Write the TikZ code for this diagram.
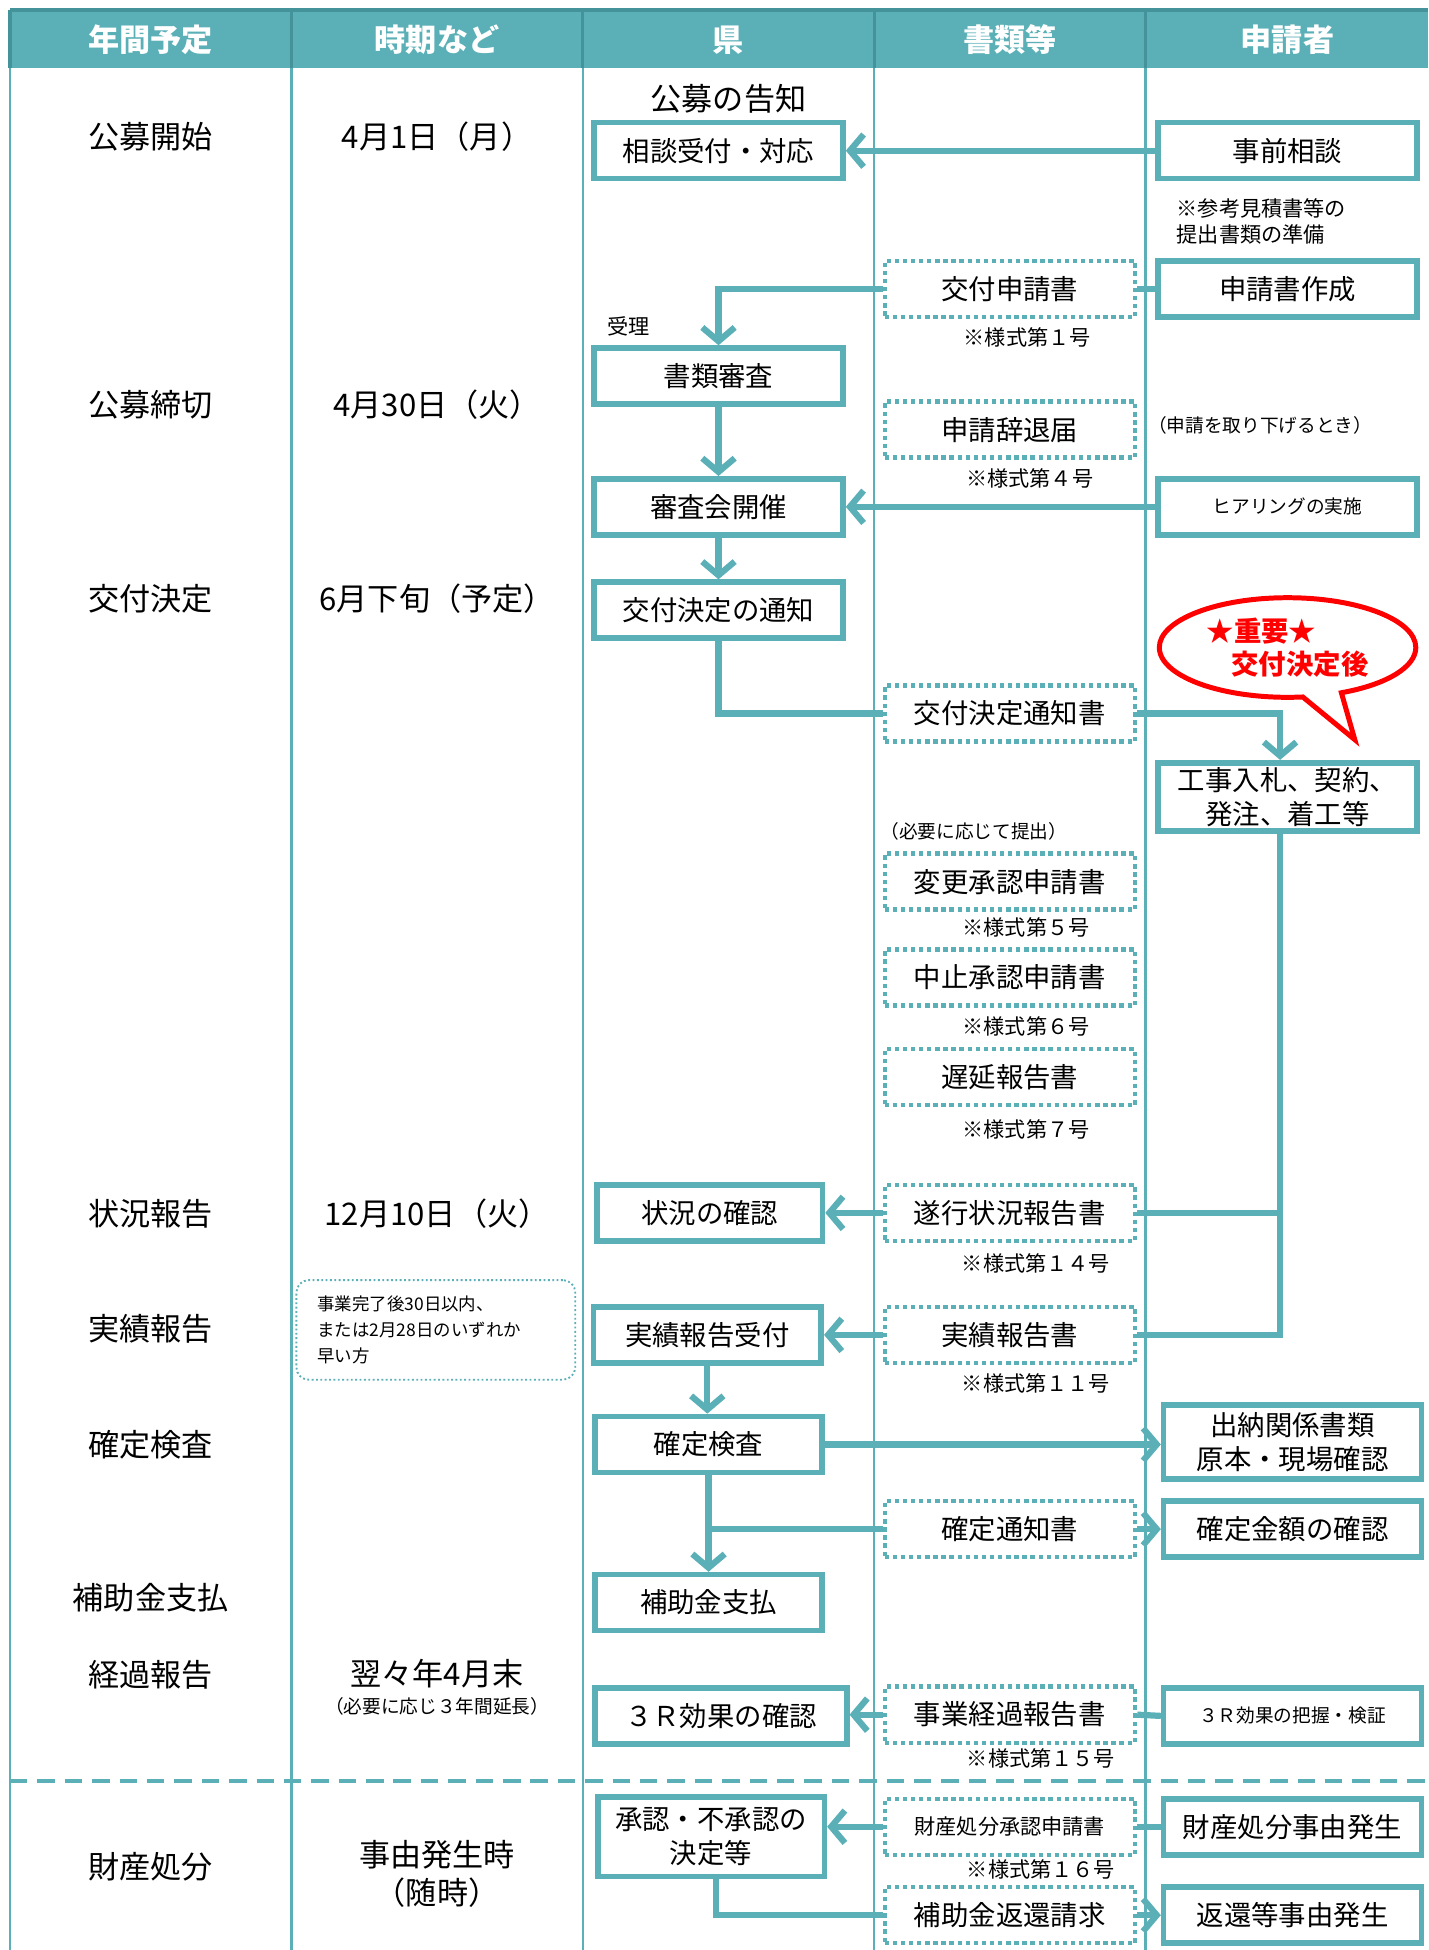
\documentclass[tikz,border=0pt]{standalone}
\usepackage{fontspec}
\setmainfont{Noto Sans CJK JP}
\usetikzlibrary{arrows.meta,shapes.callouts}
\definecolor{flowteal}{HTML}{5BB0B8}
\definecolor{headline}{HTML}{44939B}
\definecolor{alertred}{HTML}{FF0000}
\tikzset{
    big/.style={font=\fontsize{25pt}{30pt}\selectfont},
    mid/.style={font=\fontsize{22pt}{27pt}\selectfont},
    small/.style={font=\fontsize{17pt}{21pt}\selectfont},
    note/.style={font=\fontsize{15pt}{20pt}\selectfont},
    tiny/.style={font=\fontsize{14pt}{20.5pt}\selectfont},
    head/.style={font=\fontsize{25pt}{30pt}\selectfont\bfseries, text=white},
    box/.style={draw=flowteal, line width=4.5pt, fill=white, minimum width=200pt, minimum height=45pt, inner sep=2pt, align=center, mid},
    docbox/.style={draw=flowteal, line width=3.5pt, dash pattern=on 3.5pt off 3pt, fill=white, minimum width=201pt, minimum height=45pt, inner sep=2pt, align=center, mid},
    flow/.style={draw=flowteal, line width=5pt},
    arrow/.style={flow, -{Straight Barb[length=11pt, width=26pt]}},
}

\begin{document}
\begin{tikzpicture}[x=1pt, y=-1pt]
    \useasboundingbox (0,0) rectangle (1147,1566);

    % table
    \fill[flowteal] (8,8) rectangle (1147,55);
    \draw[headline, line width=2.5pt] (8,8) -- (1147,8);
    \draw[headline, line width=2.5pt] (8,8) -- (8,55);
    \draw[headline, line width=2.5pt] (234,8) -- (234,55);
    \draw[headline, line width=2.5pt] (468,8) -- (468,55);
    \draw[headline, line width=2.5pt] (702,8) -- (702,55);
    \draw[headline, line width=2.5pt] (920,8) -- (920,55);
    \draw[flowteal, line width=2pt] (8,55) -- (8,1566);
    \draw[flowteal, line width=2pt] (234,55) -- (234,1566);
    \draw[flowteal, line width=2pt] (468,55) -- (468,1566);
    \draw[flowteal, line width=2pt] (702,55) -- (702,1566);
    \draw[flowteal, line width=2pt] (920,55) -- (920,1566);
    \draw[flowteal, line width=3pt, dash pattern=on 14pt off 8pt] (8,1430) -- (1147,1430);

    \node[head] (head_year) at (121,32) {年間予定};
    \node[head] (head_time) at (351,32) {時期など};
    \node[head] (head_ken) at (585,32) {県};
    \node[head] (head_doc) at (811,32) {書類等};
    \node[head] (head_app) at (1034,32) {申請者};

    % schedule
    \node[big] (sched_start) at (121,110) {公募開始};
    \node[big] (sched_end) at (121,325) {公募締切};
    \node[big] (sched_decide) at (121,481) {交付決定};
    \node[big] (sched_status) at (121,975) {状況報告};
    \node[big] (sched_result) at (121,1067) {実績報告};
    \node[big] (sched_check) at (121,1160) {確定検査};
    \node[big] (sched_pay) at (121,1283) {補助金支払};
    \node[big] (sched_keika) at (121,1345) {経過報告};
    \node[big] (sched_shobun) at (121,1499) {財産処分};

    \node[big] (date_start) at (351,110) {4月1日（月）};
    \node[big] (date_end) at (351,325) {4月30日（火）};
    \node[big] (date_decide) at (351,481) {6月下旬（予定）};
    \node[big] (date_status) at (351,975) {12月10日（火）};
    \node[draw=flowteal, line width=1.5pt, dotted, rounded corners=10pt, minimum width=224pt, minimum height=80pt, text width=190pt, align=left, tiny] (date_limit) at (350,1068) {事業完了後30日以内、\\または2月28日のいずれか\\早い方};
    \node[big] (date_keika) at (351,1344) {翌々年4月末};
    \node[note] (date_keika_note) at (351,1370) {（必要に応じ３年間延長）};
    \node[big, align=center] (date_shobun) at (351,1505) {事由発生時\\（随時）};

    % ken
    \node[big] (ken_notice) at (585,79) {公募の告知};
    \node[box] (ken_soudan) at (577,121) {相談受付・対応};
    \node[box] (ken_shinsa) at (577,302) {書類審査};
    \node[small] (ken_juri) at (505,262) {受理};
    \node[box] (ken_shinsakai) at (577,407) {審査会開催};
    \node[box] (ken_tsuchi) at (577,490) {交付決定の通知};
    \node[box, minimum width=181pt] (ken_jokyo) at (570,974) {状況の確認};
    \node[box, minimum width=183pt] (ken_jisseki) at (568,1072) {実績報告受付};
    \node[box, minimum width=182pt] (ken_kensa) at (569,1160) {確定検査};
    \node[box, minimum width=182pt] (ken_shiharai) at (569,1287) {補助金支払};
    \node[box, minimum width=202pt] (ken_3r) at (579,1378) {３Ｒ効果の確認};
    \node[box, minimum width=182pt, minimum height=64pt] (ken_shonin) at (571,1475) {承認・不承認の\\決定等};

    % documents
    \node[docbox] (doc_shinsei) at (811,232) {交付申請書};
    \node[small] (form_1) at (825,271) {※様式第１号};
    \node[docbox] (doc_jitai) at (811,345) {申請辞退届};
    \node[small] (form_4) at (827,384) {※様式第４号};
    \node[docbox] (doc_tsuchi) at (811,573) {交付決定通知書};
    \node[note] (doc_need) at (782,668) {（必要に応じて提出）};
    \node[docbox] (doc_henko) at (811,708) {変更承認申請書};
    \node[small] (form_5) at (824,745) {※様式第５号};
    \node[docbox] (doc_chushi) at (811,785) {中止承認申請書};
    \node[small] (form_6) at (824,824) {※様式第６号};
    \node[docbox] (doc_chien) at (811,865) {遅延報告書};
    \node[small] (form_7) at (824,907) {※様式第７号};
    \node[docbox] (doc_suiko) at (811,974) {遂行状況報告書};
    \node[small] (form_14) at (832,1015) {※様式第１４号};
    \node[docbox] (doc_jisseki) at (811,1072) {実績報告書};
    \node[small] (form_11) at (832,1111) {※様式第１１号};
    \node[docbox] (doc_kakutei) at (811,1228) {確定通知書};
    \node[docbox] (doc_keika) at (811,1377) {事業経過報告書};
    \node[small] (form_15) at (836,1412) {※様式第１５号};
    \node[docbox, small] (doc_shobun) at (811,1467) {財産処分承認申請書};
    \node[small] (form_16) at (836,1501) {※様式第１６号};
    \node[docbox] (doc_henkan) at (811,1538) {補助金返還請求};

    % applicant
    \node[box, minimum width=208pt] (app_soudan) at (1034,121) {事前相談};
    \node[small, align=left] (app_prep) at (1013,178) {※参考見積書等の\\提出書類の準備};
    \node[box, minimum width=208pt] (app_sakusei) at (1034,232) {申請書作成};
    \node[note] (app_torisage) at (1012,342) {（申請を取り下げるとき）};
    \node[box, minimum width=208pt, note] (app_hearing) at (1034,407) {ヒアリングの実施};
    \coordinate (bubble_tip) at (1088,594);
    \node[ellipse callout, draw=alertred, line width=4pt, fill=white, minimum width=206pt, minimum height=80pt, inner sep=0pt, callout absolute pointer=(bubble_tip), callout pointer arc=18, align=left, text=alertred, font=\fontsize{22pt}{27pt}\selectfont\bfseries] (bubble) at (1034,520) {★重要★\\\hspace*{20pt}交付決定後};
    \node[box, minimum width=208pt, minimum height=55pt] (app_koji) at (1034,640) {工事入札、契約、\\発注、着工等};
    \node[box, minimum width=207pt, minimum height=59pt] (app_suitou) at (1038,1158) {出納関係書類\\原本・現場確認};
    \node[box, minimum width=207pt] (app_kingaku) at (1038,1228) {確定金額の確認};
    \node[box, minimum width=207pt, note] (app_3r) at (1038,1378) {３Ｒ効果の把握・検証};
    \node[box, minimum width=207pt] (app_shobun) at (1038,1467) {財産処分事由発生};
    \node[box, minimum width=207pt] (app_henkan) at (1038,1538) {返還等事由発生};

    % flow
    \draw[arrow] (app_soudan.west) -- (ken_soudan.east);
    \draw[flow] (app_sakusei.west) -- (doc_shinsei.east);
    \draw[arrow] (doc_shinsei.west) -| (ken_shinsa.north);
    \draw[arrow] (ken_shinsa.south) -- (ken_shinsakai.north);
    \draw[arrow] (app_hearing.west) -- (ken_shinsakai.east);
    \draw[arrow] (ken_shinsakai.south) -- (ken_tsuchi.north);
    \draw[flow] (ken_tsuchi.south) |- (doc_tsuchi.west);
    \draw[arrow] (doc_tsuchi.east) -| ([xshift=-6pt]app_koji.north);
    \coordinate (koji_line) at ([xshift=-6pt]app_koji.south);
    \draw[flow] (koji_line) |- (doc_jisseki.east);
    \draw[flow] (doc_suiko.east) -- (doc_suiko.east -| koji_line);
    \draw[arrow] (doc_suiko.west) -- (ken_jokyo.east);
    \draw[arrow] (doc_jisseki.west) -- (ken_jisseki.east);
    \draw[arrow] (ken_jisseki.south) -- (ken_jisseki.south |- ken_kensa.north);
    \draw[arrow] (ken_kensa.east) -- (app_suitou.west |- ken_kensa.east);
    \draw[arrow] (ken_kensa.south) -- (ken_shiharai.north);
    \draw[flow] (ken_kensa.south |- doc_kakutei.west) -- (doc_kakutei.west);
    \draw[arrow] (doc_kakutei.east) -- (app_kingaku.west);
    \draw[arrow] (doc_keika.west) -- (ken_3r.east |- doc_keika.west);
    \draw[flow] (app_3r.west) -- (doc_keika.east);
    \draw[flow] (app_shobun.west) -- (doc_shobun.east);
    \draw[arrow] (doc_shobun.west) -- (ken_shonin.east |- doc_shobun.west);
    \draw[flow] ([xshift=4pt]ken_shonin.south) |- (doc_henkan.west);
    \draw[arrow] (doc_henkan.east) -- (app_henkan.west);

\end{tikzpicture}
\end{document}
